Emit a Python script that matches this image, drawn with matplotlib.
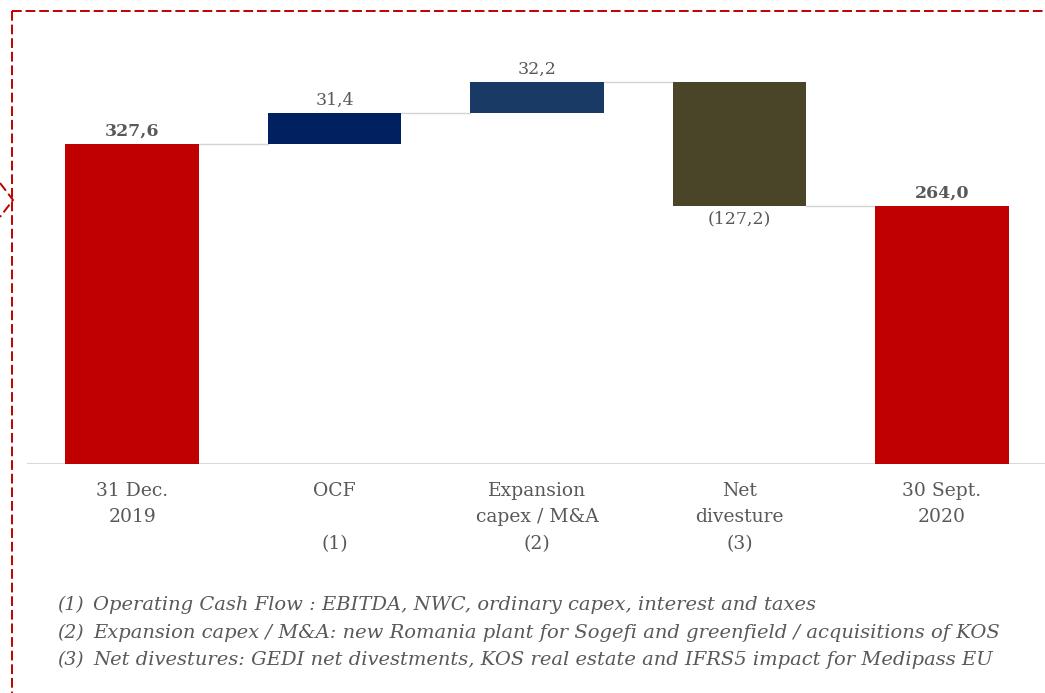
import matplotlib
matplotlib.use("Agg")
import matplotlib.pyplot as plt
from matplotlib.transforms import blended_transform_factory
from matplotlib.lines import Line2D

categories = [["31 Dec.", "2019", ""], ["OCF", "", "(1)"], ["Expansion", "capex / M&A", "(2)"],
              ["Net", "divesture", "(3)"], ["30 Sept.", "2020", ""]]
values = [327.6, 31.4, 32.2, -127.2, 264.0]
kinds = ["total", "delta", "delta", "delta", "total"]
value_labels = ["327,6", "31,4", "32,2", "(127,2)", "264,0"]
bold_labels = [True, False, False, False, True]
colors = ["#C00000", "#00205F", "#1A3A66", "#4A4429", "#C00000"]
footnotes = [("(1)", "Operating Cash Flow : EBITDA, NWC, ordinary capex, interest and taxes"),
             ("(2)", "Expansion capex / M&A: new Romania plant for Sogefi and greenfield / acquisitions of KOS"),
             ("(3)", "Net divestures: GEDI net divestments, KOS real estate and IFRS5 impact for Medipass EU")]

W, H = 1045, 693
fig = plt.figure(figsize=(W / 100, H / 100), dpi=100)
ax_left, ax_right = 27 / W, 1.0
ax_bottom_px, ax_top_px = 464, 30
ax = fig.add_axes([ax_left, 1 - ax_bottom_px / H, ax_right - ax_left, (ax_bottom_px - ax_top_px) / H])
scale = 320 / 327.6
ax.set_ylim(0, (ax_bottom_px - ax_top_px) / scale)
ax.set_xlim(-0.52, 4.51)

txt_color = "#595959"
font = "DejaVu Serif"
running = 0.0
tops = []
for i, (v, k) in enumerate(zip(values, kinds)):
    if k == "total":
        bottom, height = 0, v
        running = v
    else:
        if v >= 0:
            bottom, height = running, v
        else:
            bottom, height = running + v, -v
        running += v
    ax.bar(i, height, bottom=bottom, width=0.66, color=colors[i], zorder=3)
    tops.append(running)
    if v >= 0:
        ax.annotate(value_labels[i], (i, bottom + height), xytext=(0, 3), textcoords="offset points",
                    ha="center", va="bottom", fontsize=12.5, color=txt_color, family=font,
                    fontweight="bold" if bold_labels[i] else "normal")
    else:
        ax.annotate(value_labels[i], (i, bottom), xytext=(0, -3), textcoords="offset points",
                    ha="center", va="top", fontsize=12.5, color=txt_color, family=font,
                    fontweight="bold" if bold_labels[i] else "normal")

# connectors
for i in range(len(values) - 1):
    ax.plot([i + 0.33, i + 1 - 0.33], [tops[i], tops[i]], color="#d4d4d4", lw=1.0, zorder=2)

ax.axhline(0, color="#d9d9d9", lw=1.5, zorder=1)
for s in ax.spines.values():
    s.set_visible(False)
ax.set_xticks([])
ax.set_yticks([])

# category labels
tr = blended_transform_factory(ax.transData, fig.transFigure)
line_y = [491, 517, 544]
for i, lines in enumerate(categories):
    for j, t in enumerate(lines):
        if t:
            ax.text(i, 1 - line_y[j] / H, t, transform=tr, ha="center", va="center",
                    fontsize=13.5, color=txt_color, family=font)

# footnotes
fy = [605, 633, 660]
for (num, desc), y in zip(footnotes, fy):
    fig.text(57 / W, 1 - y / H, num, ha="left", va="center", fontsize=13.5, color=txt_color,
             family=font, style="italic")
    fig.text(93 / W, 1 - y / H, desc, ha="left", va="center", fontsize=14, color=txt_color,
             family=font, style="italic")

# dashed border
red = "#C00000"
dash = (0, (5, 2))
fig.add_artist(Line2D([12 / W, 1.0], [1 - 11 / H, 1 - 11 / H], transform=fig.transFigure,
                      color=red, lw=1.4, ls=dash))
fig.add_artist(Line2D([12 / W, 12 / W], [1 - 11 / H, 0], transform=fig.transFigure,
                      color=red, lw=1.4, ls=dash))
fig.add_artist(Line2D([0, 13 / W, 0], [1 - 183 / H, 1 - 200 / H, 1 - 217 / H], transform=fig.transFigure,
                      color=red, lw=1.4, ls=dash))

fig.savefig("out.png", dpi=100)
